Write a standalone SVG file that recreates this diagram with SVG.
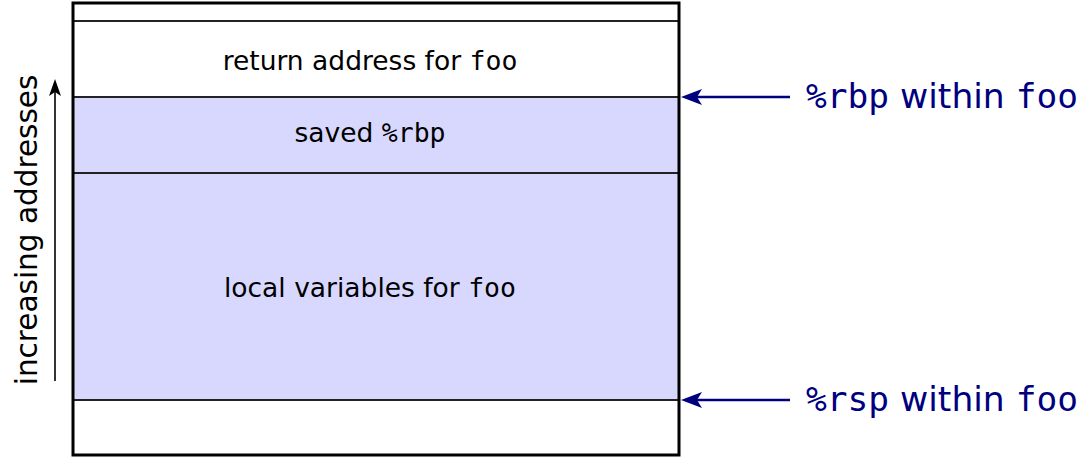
<svg xmlns="http://www.w3.org/2000/svg" width="1086" height="457" viewBox="0 0 1086 457">
  <style>
    .sans { font-family: "DejaVu Sans", "Liberation Sans", sans-serif; }
    .mono { font-family: "DejaVu Sans Mono", "Liberation Mono", monospace; }
    .cell { font-size: 26.5px; fill: #000; text-anchor: middle; }
    .label { font-size: 34.5px; fill: #00007f; }
    .sep { stroke: #222; stroke-width: 2; }
  </style>
  <defs>
    <marker id="headBlue" viewBox="0 0 21 16" refX="12" refY="8" markerWidth="21" markerHeight="16" markerUnits="userSpaceOnUse" orient="auto">
      <path d="M0,0 L21,8 L0,16 L5,8 Z" fill="#00007f"/>
    </marker>
    <marker id="headBlack" viewBox="0 0 17 12" refX="9" refY="6" markerWidth="17" markerHeight="12" markerUnits="userSpaceOnUse" orient="auto">
      <path d="M0,0 L17,6 L0,12 L4,6 Z" fill="#000"/>
    </marker>
  </defs>

  <!-- stack frame -->
  <g id="stack">
    <rect x="73" y="97" width="606" height="303" fill="#d8d8ff"/>
    <line class="sep" x1="73" y1="21" x2="679" y2="21"/>
    <line class="sep" x1="73" y1="97" x2="679" y2="97"/>
    <line class="sep" x1="73" y1="173" x2="679" y2="173"/>
    <line class="sep" x1="73" y1="400" x2="679" y2="400"/>
    <rect x="73" y="3" width="606" height="452" fill="none" stroke="#000" stroke-width="3"/>
  </g>

  <g id="return-address">
    <text class="cell sans" x="370" y="70">return address for <tspan class="mono">foo</tspan></text>
  </g>
  <g id="saved-rbp">
    <text class="cell sans" x="370" y="142">saved <tspan class="mono">%rbp</tspan></text>
  </g>
  <g id="locals">
    <text class="cell sans" x="370" y="297">local variables for <tspan class="mono">foo</tspan></text>
  </g>

  <g id="rbp-label">
    <text class="label sans" x="806" y="108"><tspan class="mono">%rbp</tspan> within <tspan class="mono">foo</tspan></text>
  </g>
  <g id="rsp-label">
    <text class="label sans" x="806" y="411"><tspan class="mono">%rsp</tspan> within <tspan class="mono">foo</tspan></text>
  </g>

  <g id="axis-label">
    <text class="sans" font-size="29.5" fill="#000" text-anchor="middle" transform="translate(37,230) rotate(-90)">increasing addresses</text>
  </g>

  <!-- connectors -->
  <g id="connectors" fill="none">
    <line x1="790" y1="97" x2="690" y2="97" stroke="#00007f" stroke-width="2.5" marker-end="url(#headBlue)"/>
    <line x1="790" y1="400" x2="690" y2="400" stroke="#00007f" stroke-width="2.5" marker-end="url(#headBlue)"/>
    <line x1="55" y1="381" x2="55" y2="87" stroke="#000" stroke-width="1.6" marker-end="url(#headBlack)"/>
  </g>
</svg>
